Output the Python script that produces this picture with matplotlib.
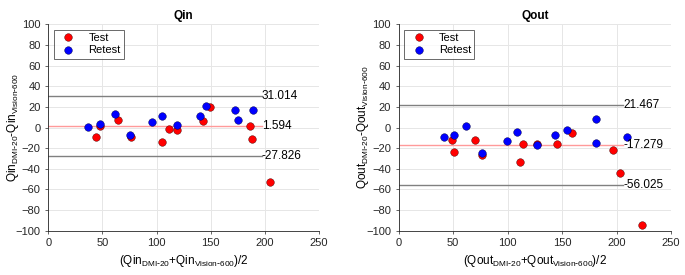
import matplotlib
matplotlib.use("Agg")
import matplotlib.pyplot as plt

plt.rcParams['font.family'] = ['Liberation Sans', 'DejaVu Sans']

# Qin - values
qin_test_x = [43.7, 48.0, 64.6, 76.3, 105.2, 111.3, 118.7, 143.0, 148.9, 186.7, 187.9, 204.8]
qin_test_y = [-9.2, 1.8, 7.3, -9.5, -13.7, -1.5, -2.1, 6.0, 19.6, 1.7, -11.1, -52.5]
qin_retest_x = [36.6, 48.0, 61.2, 75.1, 95.7, 104.6, 118.7, 139.7, 145.5, 172.5, 175.6, 188.8]
qin_retest_y = [0.2, 3.4, 12.8, -7.3, 5.0, 11.1, 2.4, 11.1, 20.8, 17.0, 7.0, 16.7]
qin_lines = [31.014, 1.594, -27.826]
qin_line_end = 197

# Qout
qout_test_x = [48.9, 50.5, 70.3, 76.8, 111.1, 114.4, 126.7, 145.4, 159.1, 197.1, 203.0, 223.1]
qout_test_y = [-11.8, -24.1, -12.1, -26.6, -33.4, -16.3, -15.7, -15.7, -5.3, -21.5, -43.8, -94.8]
qout_retest_x = [41.3, 50.8, 61.5, 76.8, 99.4, 108.9, 126.7, 143.8, 154.8, 181.5, 181.5, 209.6]
qout_retest_y = [-9.2, -7.0, 1.7, -24.4, -12.8, -4.1, -17.3, -7.6, -2.7, 8.2, -14.7, -8.9]
qout_lines = [21.467, -17.279, -56.025]
qout_line_end = 206


def bland_altman(ax, name, tx, ty, rx, ry, lines, xend):
    ax.plot(tx, ty, 'o', color='red', mec='#400000', mew=0.3, ms=5.5, label='Test', zorder=3)
    ax.plot(rx, ry, 'o', color='blue', mec='#000040', mew=0.3, ms=5.5, label='Retest', zorder=3)
    for i, v in enumerate(lines):
        col = '#ff9a9a' if i == 1 else '#808080'
        ax.plot([0, xend], [v, v], color=col, lw=1.0, zorder=2)
        ax.text(xend, v, '%.3f' % v, va='center', ha='left', fontsize=8.5)
    ax.set_xlim(0, 250)
    ax.set_ylim(-100, 100)
    ax.set_xticks(range(0, 251, 50))
    ax.set_yticks(range(-100, 101, 20))
    ax.grid(True, color='#e6e6e6', lw=0.7)
    ax.set_axisbelow(True)
    for s in ['top', 'right']:
        ax.spines[s].set_visible(False)
    for s in ['left', 'bottom']:
        ax.spines[s].set_color('#262626')
        ax.spines[s].set_linewidth(0.6)
    ax.tick_params(labelsize=8, colors='#262626', length=2, width=0.5)
    ax.set_title(name, fontsize=8.5, fontweight='bold', pad=4)
    sub1 = '$_{\\mathregular{DMI\\text{-}20}}$'
    sub2 = '$_{\\mathregular{Vision\\text{-}600}}$'
    ax.set_xlabel('(%s%s+%s%s)/2' % (name, sub1, name, sub2), fontsize=8.5, labelpad=3)
    ax.set_ylabel('%s%s-%s%s' % (name, sub1, name, sub2), fontsize=8.5)
    ax.yaxis.set_label_coords(-0.10, 0.5)
    leg = ax.legend(loc='upper left', fontsize=8, frameon=True, fancybox=False,
                    handletextpad=0.8, borderpad=0.3, labelspacing=0.2)
    leg.get_frame().set_edgecolor('#262626')
    leg.get_frame().set_linewidth(0.6)


fig = plt.figure(figsize=(6.85, 2.75), dpi=100)
ax1 = fig.add_axes([0.0705, 0.161, 0.3952, 0.7506])
ax2 = fig.add_axes([0.582, 0.161, 0.3975, 0.7506])

bland_altman(ax1, 'Qin', qin_test_x, qin_test_y, qin_retest_x, qin_retest_y, qin_lines, qin_line_end)
bland_altman(ax2, 'Qout', qout_test_x, qout_test_y, qout_retest_x, qout_retest_y, qout_lines, qout_line_end)

fig.savefig('out.png', dpi=100)
